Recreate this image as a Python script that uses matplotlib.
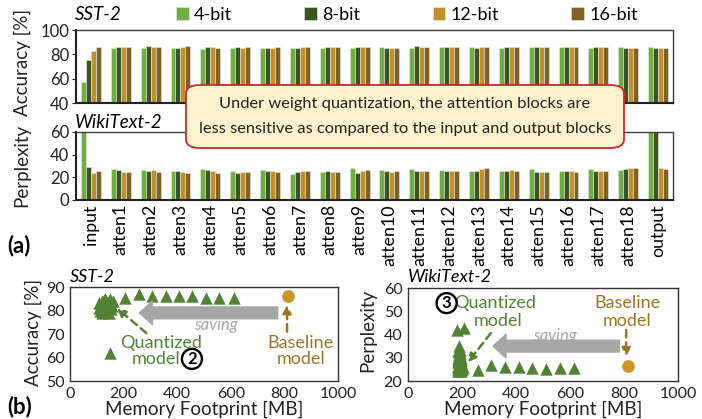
import matplotlib
matplotlib.use("Agg")
import matplotlib.pyplot as plt
from matplotlib.patches import FancyBboxPatch
import numpy as np

plt.rcParams['font.family'] = ['Lato', 'DejaVu Sans']

# ---------------- data ----------------
blocks = ["input"] + [f"atten{i}" for i in range(1, 19)] + ["output"]
bits = ["4-bit", "8-bit", "12-bit", "16-bit"]
colors = ["#70AD47", "#375623", "#BF8F30", "#7F6027"]

sst_4 = [57, 85, 85.5, 85, 84.5, 85, 85, 85, 85, 85, 86, 85.5, 86, 86, 85, 86, 86, 85.5, 86, 86]
sst_8 = [75, 86, 86.5, 85, 86, 86, 85.5, 85.5, 86, 86, 85.5, 86.5, 86, 85.5, 86, 86, 86, 86, 85.5, 85.5]
sst_12 = [83, 86, 86, 86, 86, 85.5, 85.5, 86, 86, 86, 85.5, 86, 86, 86, 86, 86, 86, 86, 85, 85.5]
sst_16 = [86, 86, 86, 86.5, 85.5, 86, 86, 86, 86, 86, 85.5, 86, 86, 86, 86, 86, 86, 86, 85, 85.5]

wiki_4 = [65, 27, 26.5, 25.5, 27.5, 25.5, 26.5, 23, 24.5, 28.5, 26.5, 27, 26.5, 25.5, 25.5, 27.5, 25.5, 27, 26.5, 65]
wiki_8 = [29, 26.5, 26, 25.5, 26.5, 24, 26, 25, 26, 24, 25.5, 25.5, 25.5, 25.5, 25.5, 25, 25.5, 25.5, 27, 65]
wiki_12 = [23.5, 24.5, 26.5, 25, 26, 24.5, 25.5, 26, 24.5, 25.5, 24.5, 25.5, 25.5, 27, 26.5, 25, 26, 25.5, 28, 28]
wiki_16 = [26, 25, 24.5, 24, 24, 24.5, 25, 25.5, 24.5, 26.5, 25.5, 25.5, 25.5, 28, 26, 25, 25, 25.5, 28, 27]

# scatter (b)
sst_q_mem = [110, 115, 120, 120, 125, 130, 130, 135, 140, 145, 145, 150, 150, 155, 160, 118, 128, 138,
             112, 122, 132, 142, 152, 108, 126, 136, 146,
             150,
             204, 259, 307, 359, 407, 456, 507, 556, 611]
sst_q_acc = [81, 82, 84, 79, 80, 85, 81, 83, 81, 84, 79, 85, 83, 82, 84, 82.5, 83, 80,
             80, 81, 82, 82.5, 80.5, 83, 84.5, 84, 81.5,
             62,
             85.3, 87, 86.2, 86.2, 86.2, 86.2, 85.5, 85.5, 85.5]
sst_base_mem = [815]
sst_base_acc = [86]

wiki_q_mem = [190, 191, 189, 193, 188, 194, 187, 195, 186, 196, 185, 197, 190, 192, 188, 194, 186, 196,
              190, 193, 187, 199, 184, 201, 191, 195, 189,
              188, 192, 196, 185, 199, 190, 194, 198, 187, 203,
              183, 206,
              258, 308, 360, 410, 460, 510, 563, 615]
wiki_q_ppl = [35, 33.5, 32.5, 32, 31, 31, 30, 30, 29, 29, 28, 28, 29.5, 28.5, 27, 27, 26, 26,
              25.5, 25, 24.5, 25.5, 25, 25, 26.5, 24.5, 31.5,
              28, 27.5, 27.5, 26.5, 27, 30.5, 29.5, 26.5, 33, 26,
              42, 43,
              24.7, 26.9, 26, 26, 25.6, 25, 25.6, 25.6]
wiki_base_mem = [815]
wiki_base_ppl = [26.5]

# ---------------- figure ----------------
W, H = 702, 419
fig = plt.figure(figsize=(W / 100, H / 100), dpi=100)


def fx(px):
    return px / W


def fy(py):
    return 1 - py / H


ax1 = fig.add_axes([fx(76), fy(103), fx(673 - 76), 73 / H])
ax2 = fig.add_axes([fx(76), fy(200), fx(673 - 76), 68 / H])

x = np.arange(len(blocks))
bw = 0.167
offs = [-1.5 * bw, -0.5 * bw, 0.5 * bw, 1.5 * bw]
sst_series = [sst_4, sst_8, sst_12, sst_16]
wiki_series = [wiki_4, wiki_8, wiki_12, wiki_16]
handles = []
for k in range(4):
    b = ax1.bar(x + offs[k], sst_series[k], width=bw, color=colors[k],
                edgecolor="#e9ecd9", linewidth=0.4, label=bits[k])
    handles.append(b)
    ax2.bar(x + offs[k], wiki_series[k], width=bw, color=colors[k],
            edgecolor="#e9ecd9", linewidth=0.4)

for ax in (ax1, ax2):
    ax.set_xlim(-0.5, len(blocks) - 0.5)
    for s in ax.spines.values():
        s.set_color("#404040")
        s.set_linewidth(1.0)
    ax.spines["bottom"].set_color("#222222")
    ax.spines["bottom"].set_linewidth(1.5)
    ax.spines["left"].set_color("#222222")
    ax.spines["left"].set_linewidth(1.5)
    ax.tick_params(axis="y", labelsize=12, length=3, pad=2, colors="#222222")

ax1.set_ylim(40, 100)
ax1.set_yticks([40, 60, 80, 100])
ax1.set_xticks([])
ax2.set_ylim(0, 60)
ax2.set_yticks([0, 20, 40, 60])
ax2.set_xticks(x)
ax2.set_xticklabels(blocks, rotation=90, fontsize=12.8)
ax2.tick_params(axis="x", length=0, pad=3)

fig.text(fx(22), fy(62), "Accuracy [%]", rotation=90, ha="center", va="center", fontsize=13.5, color="#222222")
fig.text(fx(22), fy(165), "Perplexity", rotation=90, ha="center", va="center", fontsize=13.5, color="#222222")
fig.text(fx(75), fy(14), "SST-2", style="italic", ha="left", va="center", fontsize=13.5)
fig.text(fx(75), fy(122), "WikiText-2", style="italic", ha="left", va="center", fontsize=13.5)
fig.text(fx(7), fy(246), "(a)", weight="bold", ha="left", va="center", fontsize=16)
fig.text(fx(7), fy(407), "(b)", weight="bold", ha="left", va="center", fontsize=16)

fig.legend(handles, bits, loc="center", bbox_to_anchor=(fx(407), fy(15)), ncol=4,
           frameon=False, fontsize=13, handlelength=0.7, handleheight=0.7,
           handletextpad=0.3, columnspacing=4.0)

# annotation box
box = FancyBboxPatch((fx(186), fy(148)), fx(624 - 186), (148 - 85) / H,
                     boxstyle="round,pad=0,rounding_size=0.02",
                     transform=fig.transFigure, facecolor="#FCF2CE",
                     edgecolor="#C8282D", linewidth=1.3, zorder=10)
fig.add_artist(box)
fig.text(fx(405), fy(104), "Under weight quantization, the attention blocks are",
         ha="center", va="center", fontsize=11.8, color="#222222", zorder=11)
fig.text(fx(405), fy(129), "less sensitive as compared to the input and output blocks",
         ha="center", va="center", fontsize=11.8, color="#222222", zorder=11)

# ---------------- scatter panels ----------------
green = "#548235"
gold = "#C9962C"
brown = "#9C7424"
grey = "#A6A6A6"

ax3 = fig.add_axes([fx(70), fy(381), fx(338 - 70), 94 / H])
ax4 = fig.add_axes([fx(408), fy(381), fx(678 - 408), 93 / H])

ax3.scatter(sst_q_mem, sst_q_acc, marker="^", s=80, color=green, linewidths=0, zorder=3)
ax3.scatter(sst_base_mem, sst_base_acc, marker="o", s=85, color=gold, linewidths=0, zorder=3)
ax3.set_xlim(0, 1000)
ax3.set_ylim(50, 90)
ax3.set_yticks([50, 60, 70, 80, 90])

ax4.scatter(wiki_q_mem, wiki_q_ppl, marker="^", s=80, color=green, linewidths=0, zorder=3)
ax4.scatter(wiki_base_mem, wiki_base_ppl, marker="o", s=85, color=gold, linewidths=0, zorder=3)
ax4.set_xlim(0, 1000)
ax4.set_ylim(20, 60)
ax4.set_yticks([20, 30, 40, 50, 60])

for ax in (ax3, ax4):
    ax.set_xticks([0, 200, 400, 600, 800, 1000])
    ax.tick_params(labelsize=11.5, length=0, pad=4, colors="#222222")
    for s in ax.spines.values():
        s.set_color("#333333")
        s.set_linewidth(1.0)
    ax.set_xlabel("Memory Footprint [MB]", fontsize=13.5, labelpad=0, color="#222222")

fig.text(fx(33), fy(332), "Accuracy [%]", rotation=90, ha="center", va="center", fontsize=13.5, color="#222222")
fig.text(fx(368), fy(330), "Perplexity", rotation=90, ha="center", va="center", fontsize=13.5, color="#222222")
fig.text(fx(70), fy(277), "SST-2", style="italic", ha="left", va="center", fontsize=13)
fig.text(fx(408), fy(277), "WikiText-2", style="italic", ha="left", va="center", fontsize=13)

big_arrow = dict(arrowstyle="simple,head_length=0.55,head_width=1.0,tail_width=0.5",
                 color=grey, mutation_scale=17, shrinkA=0, shrinkB=0)
green_arrow = dict(arrowstyle="-|>,head_length=0.5,head_width=0.25", color=green,
                   linestyle=(0, (3, 2)), linewidth=1.8, shrinkA=0, shrinkB=0)
brown_arrow = dict(arrowstyle="-|>,head_length=0.5,head_width=0.25", color=brown,
                   linestyle=(0, (3, 2)), linewidth=1.8, shrinkA=0, shrinkB=0)

# SST-2 annotations
ax3.annotate("", xy=(259, 79), xytext=(775, 79), arrowprops=big_arrow)
ax3.text(544, 73.8, "saving", color=grey, style="italic", ha="center", va="center", fontsize=12)
ax3.annotate("", xy=(175, 81), xytext=(285, 70.4), arrowprops=green_arrow)
ax3.text(340, 66.2, "Quantized", color=green, ha="center", va="center", fontsize=13)
ax3.text(322, 59.4, "model", color=green, ha="center", va="center", fontsize=13)
ax3.text(455, 59.4, "2", weight="bold", ha="center", va="center", fontsize=12,
         bbox=dict(boxstyle="circle,pad=0.12", fc="white", ec="black", lw=1.7))
ax3.annotate("", xy=(810, 82.5), xytext=(810, 71), arrowprops=brown_arrow)
ax3.text(859, 66, "Baseline", color=brown, ha="center", va="center", fontsize=13)
ax3.text(862, 59.4, "model", color=brown, ha="center", va="center", fontsize=13)

# WikiText-2 annotations
ax4.annotate("", xy=(315, 35), xytext=(783, 35), arrowprops=big_arrow)
ax4.text(543, 39.4, "saving", color=grey, style="italic", ha="center", va="center", fontsize=12)
ax4.annotate("", xy=(221, 28), xytext=(307, 40.6), arrowprops=green_arrow)
ax4.text(322, 53.5, "Quantized", color=green, ha="center", va="center", fontsize=13)
ax4.text(333, 45.8, "model", color=green, ha="center", va="center", fontsize=13)
ax4.text(143, 53.5, "3", weight="bold", ha="center", va="center", fontsize=12,
         bbox=dict(boxstyle="circle,pad=0.12", fc="white", ec="black", lw=1.7))
ax4.annotate("", xy=(808, 30.5), xytext=(808, 42), arrowprops=brown_arrow)
ax4.text(813, 53.5, "Baseline", color=brown, ha="center", va="center", fontsize=13)
ax4.text(810, 45.8, "model", color=brown, ha="center", va="center", fontsize=13)

fig.savefig("out.png", dpi=100)
